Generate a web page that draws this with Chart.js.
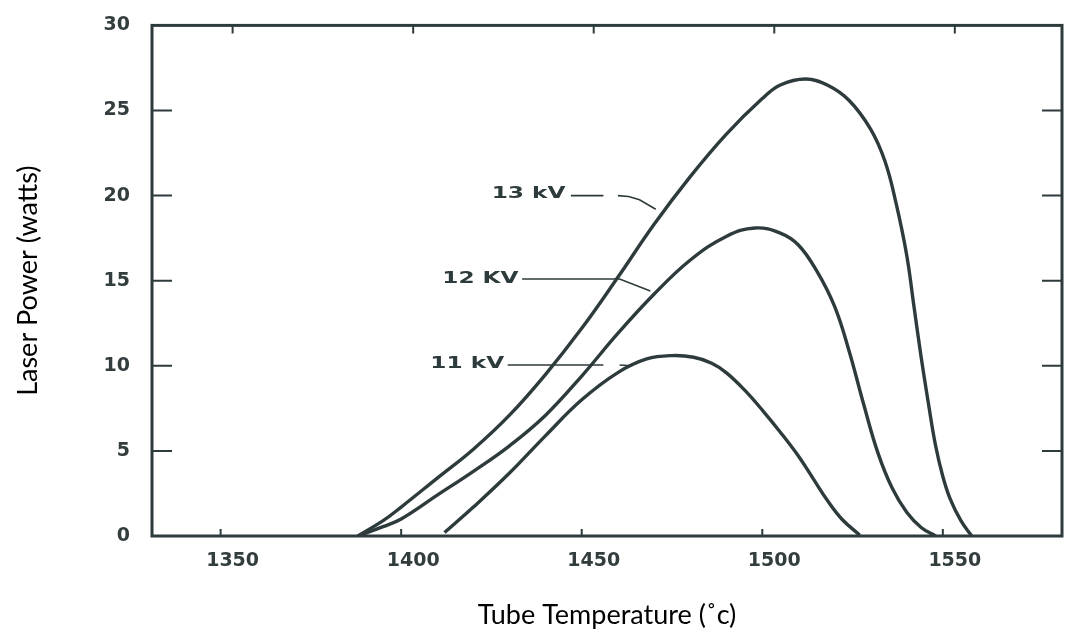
<!DOCTYPE html>
<html>
<head>
<meta charset="utf-8">
<title>Laser Power vs Tube Temperature</title>
<script src="https://cdn.jsdelivr.net/npm/chart.js@4/dist/chart.umd.min.js"></script>
<style>
    html, body { margin: 0; padding: 0; background: #ffffff; }
    #container { width: 1073px; height: 633px; position: relative; }
</style>
</head>
<body>
<div id="container"><canvas id="chart-1"></canvas></div>
<script>
// Values
const temps13 = [1388, 1395, 1400, 1410, 1420, 1430, 1440, 1450, 1460, 1470, 1480, 1490, 1500, 1505, 1512, 1518, 1524, 1530, 1534, 1537, 1540, 1542, 1544, 1546, 1548, 1550, 1552, 1555, 1558];
const power13 = [0, 0.9, 1.7, 3.4, 5.1, 7.1, 9.5, 12.2, 15.2, 18.3, 21.1, 23.6, 25.7, 26.5, 26.85, 26.5, 25.6, 23.9, 22.0, 19.6, 16.5, 13.5, 10.5, 7.8, 5.3, 3.5, 2.2, 0.9, 0];

const temps12 = [1388, 1395, 1400, 1410, 1420, 1430, 1440, 1450, 1460, 1470, 1480, 1490, 1498, 1505, 1510, 1515, 1520, 1524, 1528, 1532, 1536, 1540, 1544, 1548];
const power12 = [0, 0.55, 1.0, 2.4, 3.8, 5.3, 7.1, 9.4, 11.9, 14.2, 16.2, 17.6, 18.1, 17.8, 17.1, 15.6, 13.5, 10.9, 7.8, 4.9, 2.8, 1.4, 0.5, 0];

const temps11 = [1412, 1420, 1430, 1440, 1450, 1460, 1468, 1475, 1481, 1486, 1490, 1495, 1500, 1505, 1510, 1514, 1518, 1522, 1527];
const power11 = [0.2, 1.7, 3.7, 5.9, 8.0, 9.6, 10.4, 10.6, 10.5, 10.15, 9.6, 8.6, 7.4, 6.1, 4.7, 3.4, 2.1, 1.0, 0.05];

// Curve labels and their leader lines (data units)
const curveNames = ['13 kV', '12 KV', '11 kV'];
const nameTemps = [1445.5, 1432.5, 1428.5];
const namePowers = [20.1, 15.1, 10.1];

const leader13aX = [1447, 1456];
const leader13aY = [20.0, 20.0];
const leader13bX = [1460, 1463, 1466, 1470.5];
const leader13bY = [20.0, 19.95, 19.75, 19.2];
const leader12X = [1433.5, 1460.5, 1469];
const leader12Y = [15.1, 15.1, 14.4];
const leader11aX = [1429.5, 1456];
const leader11aY = [10.05, 10.05];
const leader11bX = [1460.5, 1464];
const leader11bY = [10.05, 10.0];

// Axes
const xMin = 1331;
const xMax = 1583;
const xTickValues = [1350, 1400, 1450, 1500, 1550];
const yMin = 0;
const yMax = 30;
const yStep = 5;

const ink = '#2e3b3c';

function toPoints(xs, ys) {
    return xs.map(function(x, i) { return {x: x, y: ys[i]}; });
}

function curve(label, xs, ys) {
    return {
        label: label,
        data: toPoints(xs, ys),
        borderColor: ink,
        borderWidth: 3.4,
        pointRadius: 0,
        fill: false,
        tension: 0.4
    };
}

function leader(xs, ys) {
    return {
        label: 'leader',
        data: toPoints(xs, ys),
        borderColor: ink,
        borderWidth: 1.6,
        pointRadius: 0,
        fill: false,
        tension: 0
    };
}

// Frame with inward tick marks, like the original plot
const frameTicks = {
    id: 'frameTicks',
    afterDatasetsDraw(chart) {
        const ctx = chart.ctx;
        const area = chart.chartArea;
        const xs = chart.scales.x;
        const ys = chart.scales.y;
        ctx.save();
        ctx.strokeStyle = ink;
        ctx.lineWidth = 2;
        ys.ticks.forEach(function(t) {
            if (t.value <= yMin || t.value >= yMax) return;
            const py = ys.getPixelForValue(t.value);
            ctx.beginPath();
            ctx.moveTo(area.left, py);
            ctx.lineTo(area.left + 20, py);
            ctx.moveTo(area.right, py);
            ctx.lineTo(area.right - 20, py);
            ctx.stroke();
        });
        xs.ticks.forEach(function(t) {
            const px = xs.getPixelForValue(t.value);
            ctx.beginPath();
            ctx.moveTo(px, area.bottom);
            ctx.lineTo(px, area.bottom - 7);
            ctx.moveTo(px + 12, area.top);
            ctx.lineTo(px + 12, area.top + 8);
            ctx.stroke();
        });
        ctx.lineWidth = 3;
        ctx.strokeRect(area.left, area.top, area.right - area.left, area.bottom - area.top);

        // curve names, stretched like the typewriter lettering
        ctx.fillStyle = ink;
        ctx.font = 'bold 16px "DejaVu Sans"';
        ctx.textAlign = 'right';
        ctx.textBaseline = 'middle';
        curveNames.forEach(function(name, i) {
            const px = xs.getPixelForValue(nameTemps[i]);
            const py = ys.getPixelForValue(namePowers[i]);
            ctx.save();
            ctx.translate(px, py);
            ctx.scale(1.45, 1);
            ctx.fillText(name, 0, 0);
            ctx.restore();
        });
        ctx.restore();
    }
};

const data = {
    datasets: [
        curve('13 kV', temps13, power13),
        curve('12 kV', temps12, power12),
        curve('11 kV', temps11, power11),
        leader(leader13aX, leader13aY),
        leader(leader13bX, leader13bY),
        leader(leader12X, leader12Y),
        leader(leader11aX, leader11aY),
        leader(leader11bX, leader11bY)
    ]
};

const config = {
    type: 'line',
    data: data,
    options: {
        responsive: true,
        maintainAspectRatio: false,
        animation: false,
        layout: {
            padding: {top: 17, right: 11, bottom: 0, left: 0}
        },
        plugins: {
            legend: {display: false},
            tooltip: {enabled: false}
        },
        scales: {
            x: {
                type: 'linear',
                min: xMin,
                max: xMax,
                grid: {display: false},
                border: {display: false},
                afterBuildTicks: function(scale) {
                    scale.ticks = xTickValues.map(function(v) { return {value: v}; });
                },
                ticks: {
                    padding: 6,
                    labelOffset: 12,
                    color: '#333d3e',
                    font: {family: 'DejaVu Sans', size: 19, weight: 'bold'},
                    callback: function(v) { return String(v); }
                },
                title: {
                    display: true,
                    text: 'Tube Temperature (˚c)',
                    color: '#000000',
                    font: {family: 'Lato', size: 27},
                    padding: {top: 0, bottom: 2}
                },
                afterFit: function(scale) { scale.height = 97; }
            },
            y: {
                min: yMin,
                max: yMax,
                grid: {display: false},
                border: {display: false},
                ticks: {
                    stepSize: yStep,
                    padding: 14,
                    color: '#333d3e',
                    font: {family: 'DejaVu Sans', size: 19, weight: 'bold'}
                },
                title: {
                    display: true,
                    text: 'Laser Power (watts)',
                    color: '#000000',
                    font: {family: 'Lato', size: 27},
                    padding: {top: 12, bottom: 0}
                },
                afterFit: function(scale) { scale.width = 152; }
            }
        }
    },
    plugins: [frameTicks]
};

const chart1 = new Chart(
    document.getElementById('chart-1'),
    config
);
</script>
</body>
</html>
